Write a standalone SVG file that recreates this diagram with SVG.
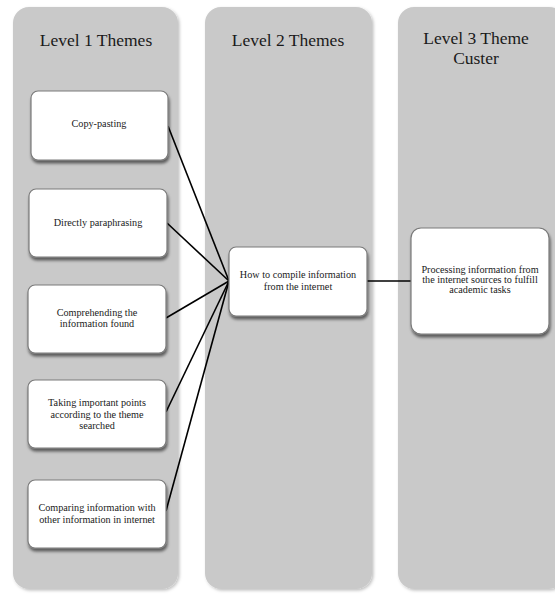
<svg xmlns="http://www.w3.org/2000/svg" width="555" height="594" viewBox="0 0 555 594">
<defs>
<filter id="colsh" x="-10%" y="-5%" width="120%" height="110%">
<feDropShadow dx="1.5" dy="1.5" stdDeviation="1.5" flood-color="#000" flood-opacity="0.25"/>
</filter>
<filter id="boxsh" x="-10%" y="-10%" width="125%" height="135%">
<feDropShadow dx="1" dy="3" stdDeviation="1.8" flood-color="#000" flood-opacity="0.55"/>
</filter>
</defs>
<style>
.col{fill:#c9c9c9;filter:url(#colsh);}
.box{fill:#ffffff;stroke:#7a7a7a;stroke-width:1.2;filter:url(#boxsh);}
.hdr{font-family:"Liberation Serif",serif;font-size:17.5px;fill:#1a1a1a;text-anchor:middle;}
.lbl{font-family:"Liberation Serif",serif;font-size:10.2px;fill:#1a1a1a;text-anchor:middle;}
.con{stroke:#000;stroke-width:1.6;fill:none;}
</style>

<g id="column1">
<rect class="col" x="13" y="7" width="165" height="582" rx="16"/>
<text class="hdr" x="96" y="46">Level 1 Themes</text>
</g>
<g id="column2">
<rect class="col" x="205" y="7" width="167" height="582" rx="16"/>
<text class="hdr" x="288" y="46">Level 2 Themes</text>
</g>
<g id="column3">
<rect class="col" x="398" y="7" width="167" height="582" rx="16"/>
<text class="hdr" x="476" y="44">Level 3 Theme</text>
<text class="hdr" x="476" y="64">Custer</text>
</g>

<g id="connectors">
<line class="con" x1="168" y1="126" x2="229" y2="281"/>
<line class="con" x1="167" y1="223" x2="229" y2="281"/>
<line class="con" x1="166" y1="318" x2="229" y2="281"/>
<line class="con" x1="166" y1="412" x2="229" y2="281"/>
<line class="con" x1="166" y1="511" x2="229" y2="281"/>
<line class="con" x1="367" y1="281" x2="411" y2="281"/>
</g>

<g id="n1">
<rect class="box" x="31" y="91" width="137" height="69" rx="7"/>
<text class="lbl" x="99" y="127">Copy-pasting</text>
</g>
<g id="n2">
<rect class="box" x="29" y="189" width="138" height="68" rx="7"/>
<text class="lbl" x="98" y="226">Directly paraphrasing</text>
</g>
<g id="n3">
<rect class="box" x="28" y="285" width="138" height="68" rx="7"/>
<text class="lbl" x="97" y="316">Comprehending the</text>
<text class="lbl" x="97" y="327">information found</text>
</g>
<g id="n4">
<rect class="box" x="28" y="380" width="138" height="68" rx="7"/>
<text class="lbl" x="97" y="406">Taking important points</text>
<text class="lbl" x="97" y="417.5">according to the theme</text>
<text class="lbl" x="97" y="429">searched</text>
</g>
<g id="n5">
<rect class="box" x="28" y="480" width="138" height="68" rx="7"/>
<text class="lbl" x="97" y="511">Comparing information with</text>
<text class="lbl" x="97" y="523">other information in internet</text>
</g>
<g id="n6">
<rect class="box" x="229" y="247" width="138" height="69" rx="7"/>
<text class="lbl" x="298" y="278">How to compile information</text>
<text class="lbl" x="298" y="289.5">from the internet</text>
</g>
<g id="n7">
<rect class="box" x="411" y="228" width="138" height="106" rx="10"/>
<text class="lbl" x="480" y="273">Processing information from</text>
<text class="lbl" x="480" y="283">the internet sources to fulfill</text>
<text class="lbl" x="480" y="293">academic tasks</text>
</g>
</svg>
